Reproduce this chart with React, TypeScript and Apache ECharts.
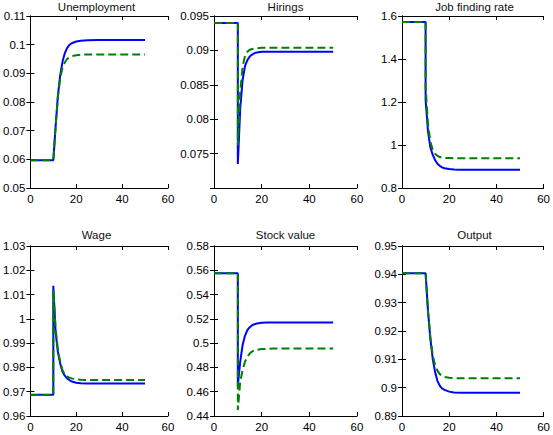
import React, { useEffect, useRef } from "react";
import * as echarts from "echarts";

const periods = [0, 10, 10, 11, 12, 13, 14, 15, 16, 17, 18, 20, 22, 25, 30, 40, 50];

const titles = ["Unemployment", "Hirings", "Job finding rate", "Wage", "Stock value", "Output"];

const unemploymentBlue = [0.0597, 0.0597, 0.0597, 0.0715, 0.0822, 0.0893, 0.0940, 0.0970, 0.0988, 0.0999, 0.1005, 0.1011, 0.1014, 0.1015, 0.1016, 0.1016, 0.1016];
const unemploymentGreen = [0.0597, 0.0597, 0.0597, 0.0715, 0.0818, 0.0884, 0.0920, 0.0938, 0.0950, 0.0956, 0.0960, 0.0963, 0.0965, 0.0966, 0.0966, 0.0966, 0.0966];

const hiringsBlue = [0.0940, 0.0940, 0.0735, 0.0815, 0.0857, 0.0877, 0.0886, 0.0891, 0.0894, 0.0896, 0.0897, 0.0898, 0.0898, 0.0898, 0.0898, 0.0898, 0.0898];
const hiringsGreen = [0.0940, 0.0940, 0.0762, 0.0840, 0.0876, 0.0892, 0.0898, 0.0901, 0.0902, 0.0903, 0.0903, 0.0904, 0.0904, 0.0904, 0.0904, 0.0904, 0.0904];

const jobFindingBlue = [1.572, 1.572, 1.21, 1.065, 0.99, 0.955, 0.93, 0.913, 0.903, 0.896, 0.892, 0.888, 0.886, 0.885, 0.885, 0.885, 0.885];
const jobFindingGreen = [1.572, 1.572, 1.27, 1.10, 1.017, 0.978, 0.959, 0.95, 0.944, 0.941, 0.940, 0.939, 0.938, 0.938, 0.938, 0.938, 0.938];

const wageBlue = [0.9688, 0.9688, 1.0136, 0.9945, 0.9864, 0.9816, 0.9782, 0.9766, 0.9755, 0.9748, 0.9742, 0.9737, 0.9735, 0.9734, 0.9734, 0.9734, 0.9734];
const wageGreen = [0.9686, 0.9686, 1.0118, 0.9960, 0.9871, 0.9823, 0.9789, 0.9771, 0.9763, 0.9758, 0.9755, 0.9751, 0.9749, 0.9748, 0.9748, 0.9748, 0.9748];

const stockBlue = [0.5575, 0.5575, 0.4649, 0.4847, 0.4984, 0.5060, 0.5107, 0.5131, 0.5148, 0.5156, 0.5162, 0.5167, 0.5169, 0.5170, 0.5170, 0.5170, 0.5170];
const stockGreen = [0.5575, 0.5575, 0.4449, 0.4682, 0.4778, 0.4847, 0.4888, 0.4915, 0.4932, 0.4940, 0.4945, 0.4951, 0.4953, 0.4955, 0.4956, 0.4956, 0.4956];

const outputBlue = [0.9404, 0.9404, 0.9404, 0.9273, 0.9174, 0.9103, 0.9056, 0.9024, 0.9007, 0.8997, 0.8992, 0.8986, 0.8983, 0.8982, 0.8982, 0.8982, 0.8982];
const outputGreen = [0.9404, 0.9404, 0.9404, 0.9270, 0.9180, 0.9115, 0.9080, 0.9060, 0.9048, 0.9042, 0.9038, 0.9035, 0.9034, 0.9033, 0.9033, 0.9033, 0.9033];

const blueSeries = [unemploymentBlue, hiringsBlue, jobFindingBlue, wageBlue, stockBlue, outputBlue];
const greenSeries = [unemploymentGreen, hiringsGreen, jobFindingGreen, wageGreen, stockGreen, outputGreen];

const yMins = [0.05, 0.07, 0.8, 0.96, 0.44, 0.89];
const yMaxs = [0.11, 0.095, 1.6, 1.03, 0.58, 0.95];
const yIntervals = [0.01, 0.005, 0.2, 0.01, 0.02, 0.01];
const yShowMinLabel = [true, false, true, true, true, true];

const xMin = 0;
const xMax = 60;
const xInterval = 20;

const grids = [
  { left: 25, top: 16, width: 143, height: 172 },
  { left: 214, top: 16, width: 143, height: 172 },
  { left: 402, top: 16, width: 145, height: 172 },
  { left: 25, top: 246, width: 143, height: 170 },
  { left: 214, top: 246, width: 143, height: 170 },
  { left: 402, top: 246, width: 145, height: 170 },
];

const FONT = "'Liberation Sans', Arial, Helvetica, sans-serif";

export default function App() {
  const ref = useRef<HTMLDivElement>(null);
  useEffect(() => {
    if (!ref.current) return;
    const chart = echarts.init(ref.current, undefined, { renderer: "svg" });
    const axisLine = { show: true, lineStyle: { color: "#000", width: 1 } };
    const tick = { show: true, inside: true, length: 4, lineStyle: { color: "#000", width: 1 } };
    const labelStyle = { color: "#000", fontSize: 11.5, fontFamily: FONT, margin: 5 };

    const xAxis: any[] = [];
    const yAxis: any[] = [];
    const series: any[] = [];
    const graphic: any[] = [];

    grids.forEach((g, i) => {
      xAxis.push({
        type: "value", gridIndex: i, position: "bottom", min: xMin, max: xMax, interval: xInterval,
        axisLine, axisTick: tick, splitLine: { show: false }, axisLabel: labelStyle,
      });
      xAxis.push({
        type: "value", gridIndex: i, position: "top", min: xMin, max: xMax, interval: xInterval,
        axisLine, axisTick: tick, splitLine: { show: false }, axisLabel: { show: false },
      });
      yAxis.push({
        type: "value", gridIndex: i, position: "left", min: yMins[i], max: yMaxs[i], interval: yIntervals[i],
        axisLine, axisTick: tick, splitLine: { show: false },
        axisLabel: { ...labelStyle, showMinLabel: yShowMinLabel[i] },
      });
      yAxis.push({
        type: "value", gridIndex: i, position: "right", min: yMins[i], max: yMaxs[i], interval: yIntervals[i],
        axisLine, axisTick: tick, splitLine: { show: false }, axisLabel: { show: false },
      });
      series.push({
        type: "line", xAxisIndex: 2 * i, yAxisIndex: 2 * i, showSymbol: false, symbol: "none",
        data: periods.map((p, k) => [p, blueSeries[i][k]]),
        lineStyle: { color: "#0000ff", width: 2 }, itemStyle: { color: "#0000ff" },
      });
      series.push({
        type: "line", xAxisIndex: 2 * i, yAxisIndex: 2 * i, showSymbol: false, symbol: "none",
        data: periods.map((p, k) => [p, greenSeries[i][k]]),
        lineStyle: { color: "#008000", width: 2, type: [8, 4] }, itemStyle: { color: "#008000" },
      });
      graphic.push({
        type: "text",
        x: g.left + g.width / 2,
        y: g.top - (i < 3 ? 9 : 11),
        style: {
          text: titles[i],
          fontSize: 11.5,
          fontWeight: "normal",
          fontFamily: FONT,
          fill: "#111",
          textAlign: "center",
          textVerticalAlign: "middle",
        },
      });
    });

    chart.setOption({
      animation: false,
      backgroundColor: "#fff",
      grid: grids.map((g) => ({ ...g, containLabel: false })),
      xAxis,
      yAxis,
      series,
      graphic,
    });
    return () => chart.dispose();
  }, []);
  return (
    <div
      ref={ref}
      style={{ position: "absolute", left: 0, top: 0, width: 553, height: 435, background: "#fff" }}
    />
  );
}
